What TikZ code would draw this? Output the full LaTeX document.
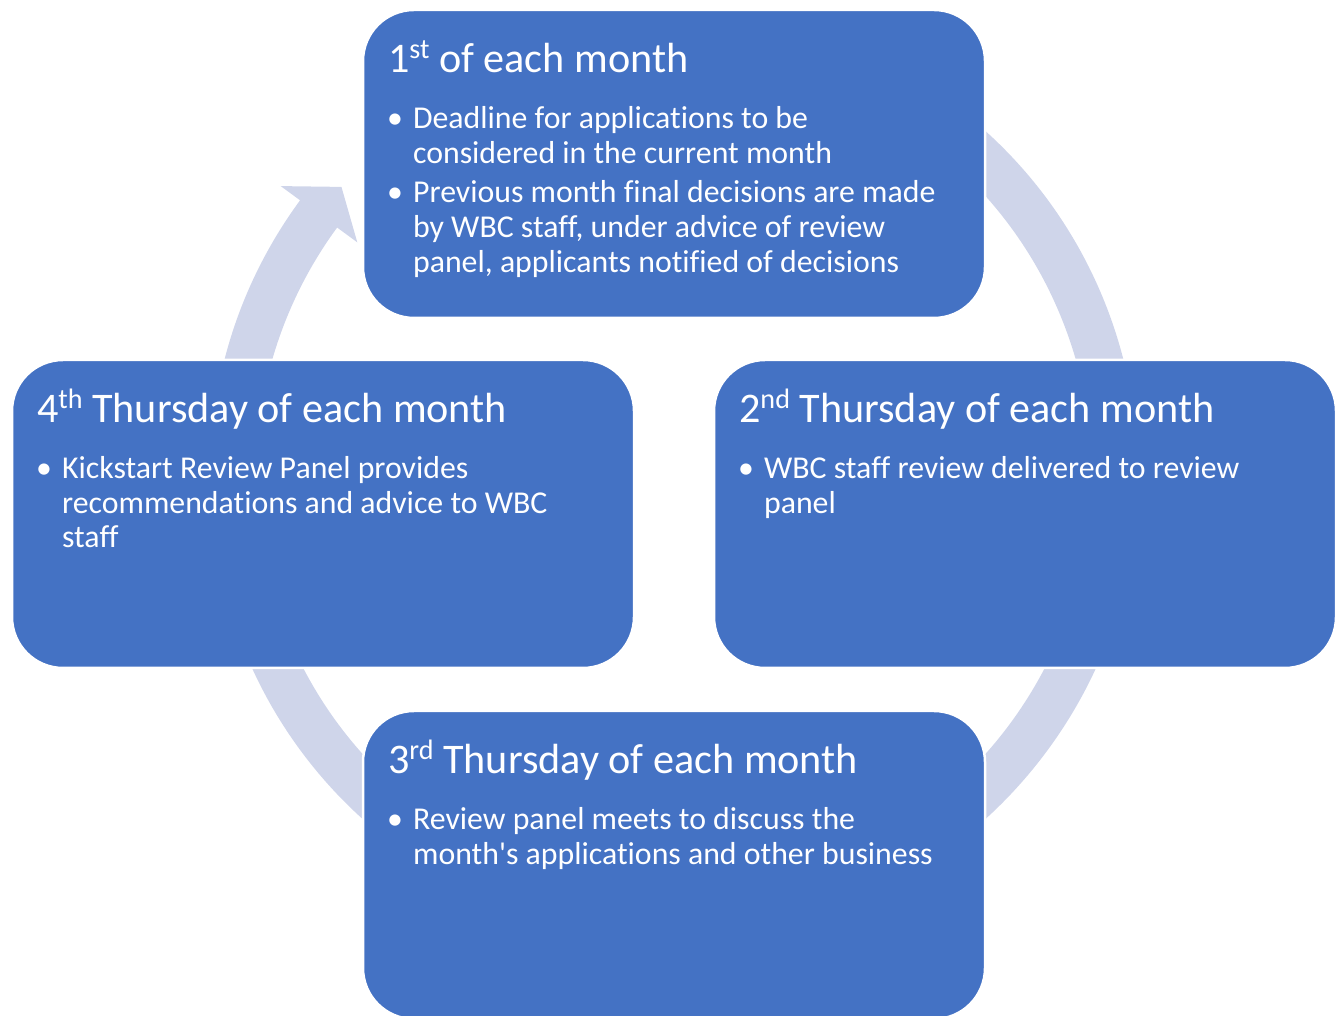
\documentclass[tikz,border=0pt]{standalone}
\usepackage{fontspec}
\setmainfont{Carlito}[Ligatures={NoCommon}]
\usetikzlibrary{calc}

\definecolor{boxblue}{HTML}{4472C4}
\definecolor{ringblue}{HTML}{CFD5EA}

% ordinal suffix, raised and smaller
\newcommand{\ordsup}[1]{\raisebox{8pt}{\fontsize{16}{17}\selectfont #1}}

\tikzset{
    stagebox/.style = {rectangle, rounded corners=1.02cm, fill=boxblue, draw=white,
        line width=0.05cm, minimum width=12.44cm, minimum height=6.16cm, inner sep=0pt},
    stagehead/.style = {anchor=base west, inner sep=0pt, text=white,
        font=\fontsize{24}{28}\selectfont},
    stagebody/.style = {anchor=base west, inner sep=0pt, text=white,
        font=\fontsize{18.1}{19.84}\selectfont},
}

\begin{document}
\begin{tikzpicture}
    \useasboundingbox (0,0) rectangle (26.8,20.3);
    \clip (0,0) rectangle (26.8,20.3);

    % cycle arrow: ring goes round under the boxes, head points at the top box
    \coordinate (C) at (13.48,10.80);
    \fill[ringblue] ($(C)+(143.7:9.28)$) arc[start angle=143.7, end angle=470, radius=9.28]
        -- ($(C)+(470:8.36)$) arc[start angle=470, end angle=143.7, radius=8.36]
        -- ($(C)+(143.7:7.86)$) -- ($(C)+(139.1:8.80)$) -- ($(C)+(143.7:9.76)$) -- cycle;

    % the four stages
    \node[stagebox] (top) at (13.48,17.02) {};
    \node[stagebox] (right) at (20.50,10.02) {};
    \node[stagebox] (bottom) at (13.48,3.00) {};
    \node[stagebox] (left) at (6.46,10.02) {};

    \node[stagehead] (tophead) at ($(top.north west)+(0.52,-1.27)$) {1\ordsup{st} of each month};
    \node[stagebody] (topbody) at ($(tophead.base west)+(-0.02,-1.12)$) {\begin{tabular}[t]{@{}p{0.52cm}@{}l@{}}
        \textbullet & Deadline for applications to be\\
        & considered in the current month\\[2.8pt]
        \textbullet & Previous month final decisions are made\\
        & by WBC staff, under advice of review\\
        & panel, applicants notified of decisions
    \end{tabular}};

    \node[stagehead] (righthead) at ($(right.north west)+(0.52,-1.27)$) {2\ordsup{nd} Thursday of each month};
    \node[stagebody] (rightbody) at ($(righthead.base west)+(-0.02,-1.12)$) {\begin{tabular}[t]{@{}p{0.52cm}@{}l@{}}
        \textbullet & WBC staff review delivered to review\\
        & panel
    \end{tabular}};

    \node[stagehead] (bottomhead) at ($(bottom.north west)+(0.52,-1.27)$) {3\ordsup{rd} Thursday of each month};
    \node[stagebody] (bottombody) at ($(bottomhead.base west)+(-0.02,-1.12)$) {\begin{tabular}[t]{@{}p{0.52cm}@{}l@{}}
        \textbullet & Review panel meets to discuss the\\
        & month\textquotesingle s applications and other business
    \end{tabular}};

    \node[stagehead] (lefthead) at ($(left.north west)+(0.52,-1.27)$) {4\ordsup{th} Thursday of each month};
    \node[stagebody] (leftbody) at ($(lefthead.base west)+(-0.02,-1.12)$) {\begin{tabular}[t]{@{}p{0.52cm}@{}l@{}}
        \textbullet & Kickstart Review Panel provides\\
        & recommendations and advice to WBC\\
        & staff
    \end{tabular}};
\end{tikzpicture}
\end{document}
